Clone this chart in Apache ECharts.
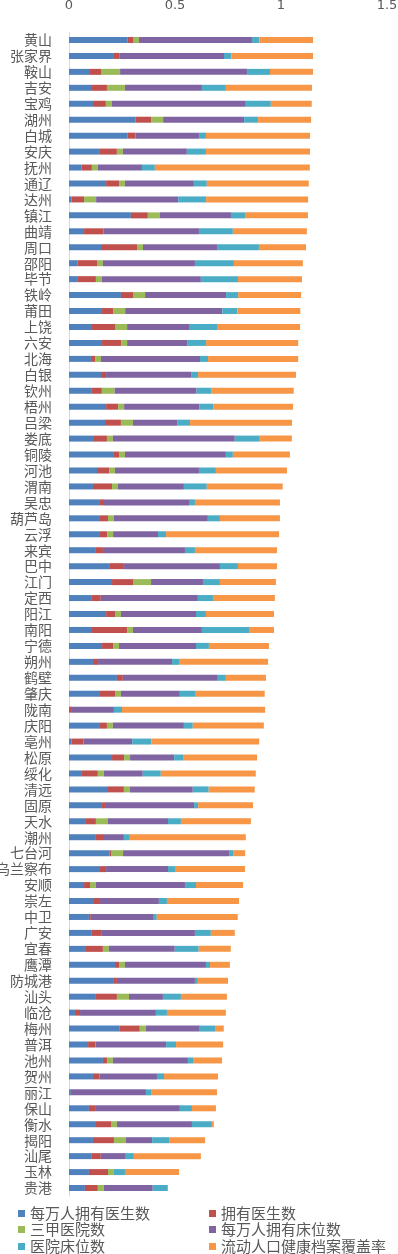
<!DOCTYPE html>
<html>
<head>
<meta charset="utf-8">
<script src="https://cdn.jsdelivr.net/npm/echarts/dist/echarts.min.js"></script>
<style>
html,body{margin:0;padding:0;background:#fff;}
#chart{width:398px;height:1254px;}
</style>
</head>
<body>
<div id="chart"></div>
<script>
const cities = ['黄山','张家界','鞍山','吉安','宝鸡','湖州','白城','安庆','抚州','通辽','达州','镇江','曲靖','周口','邵阳','毕节','铁岭','莆田','上饶','六安','北海','白银','钦州','梧州','吕梁','娄底','铜陵','河池','渭南','吴忠','葫芦岛','云浮','来宾','巴中','江门','定西','阳江','南阳','宁德','朔州','鹤壁','肇庆','陇南','庆阳','亳州','松原','绥化','清远','固原','天水','潮州','七台河','乌兰察布','安顺','崇左','中卫','广安','宜春','鹰潭','防城港','汕头','临沧','梅州','普洱','池州','贺州','丽江','保山','衡水','揭阳','汕尾','玉林','贵港'];

const doctorsPer10k = [0.275,0.212,0.099,0.104,0.113,0.313,0.275,0.146,0.058,0.175,0.011,0.292,0.071,0.151,0.039,0.042,0.245,0.156,0.104,0.156,0.104,0.151,0.108,0.175,0.170,0.118,0.208,0.132,0.113,0.146,0.142,0.142,0.127,0.193,0.203,0.108,0.175,0.104,0.156,0.113,0.226,0.142,0,0.146,0.011,0.203,0.061,0.184,0.156,0.080,0.127,0.190,0.142,0.071,0.118,0.094,0.108,0.080,0.217,0.212,0.127,0.028,0.237,0.090,0.160,0.113,0.009,0.094,0.123,0.113,0.108,0.094,0.075];

const doctors = [0.027,0.025,0.052,0.075,0.061,0.074,0.039,0.080,0.050,0.061,0.060,0.080,0.091,0.170,0.093,0.085,0.057,0.052,0.113,0.090,0.019,0.024,0.047,0.057,0.075,0.061,0.028,0.057,0.090,0.019,0.042,0.038,0.033,0.066,0.099,0.042,0.042,0.170,0.052,0.024,0.028,0.075,0.014,0.033,0.057,0.057,0.075,0.075,0.014,0.047,0.038,0.008,0.033,0.028,0.028,0.009,0.047,0.080,0.019,0.014,0.099,0.024,0.097,0.035,0.019,0.030,0.005,0.033,0.075,0.099,0.042,0.090,0.061];

const tier3Hospitals = [0.028,0,0.090,0.085,0.028,0.057,0,0.028,0.028,0.028,0.057,0.057,0,0.028,0.028,0.028,0.057,0.057,0.057,0.028,0.028,0,0.060,0.028,0.057,0.028,0.028,0.028,0.028,0,0.028,0.028,0,0,0.085,0,0.028,0.028,0.028,0,0,0.028,0,0.028,0,0.028,0.028,0.028,0,0.057,0,0.057,0,0.028,0,0,0,0.028,0.028,0,0.057,0,0.028,0,0.028,0,0,0,0.028,0.057,0,0.028,0.028];

const bedsPer10k = [0.533,0.494,0.599,0.363,0.632,0.382,0.299,0.302,0.208,0.325,0.387,0.335,0.451,0.349,0.434,0.467,0.382,0.458,0.292,0.283,0.467,0.401,0.387,0.354,0.208,0.575,0.476,0.396,0.311,0.401,0.443,0.212,0.387,0.453,0.245,0.458,0.354,0.325,0.363,0.349,0.448,0.278,0.198,0.335,0.230,0.208,0.184,0.297,0.420,0.283,0.094,0.500,0.292,0.420,0.278,0.297,0.439,0.311,0.382,0.368,0.160,0.358,0.255,0.333,0.354,0.272,0.349,0.396,0.354,0.123,0.118,0,0.231];

const hospitalBeds = [0.035,0.035,0.108,0.113,0.118,0.066,0.033,0.090,0.061,0.061,0.132,0.066,0.160,0.198,0.184,0.175,0.057,0.071,0.132,0.090,0.038,0.033,0.071,0.066,0.061,0.118,0.033,0.080,0.108,0.028,0.057,0.038,0.047,0.085,0.080,0.071,0.047,0.222,0.061,0.033,0.038,0.075,0.038,0.042,0.090,0.042,0.085,0.075,0.019,0.061,0.028,0.019,0.033,0.052,0.038,0.014,0.075,0.113,0.019,0.014,0.085,0.052,0.075,0.047,0.024,0.033,0.024,0.057,0.094,0.080,0.038,0.052,0.071];

const migrantRecords = [0.253,0.385,0.203,0.406,0.193,0.250,0.491,0.491,0.731,0.481,0.481,0.297,0.349,0.222,0.325,0.302,0.297,0.297,0.392,0.434,0.425,0.462,0.387,0.377,0.481,0.151,0.269,0.335,0.358,0.401,0.283,0.533,0.387,0.184,0.264,0.292,0.321,0.118,0.283,0.420,0.189,0.325,0.675,0.335,0.509,0.349,0.448,0.217,0.259,0.330,0.547,0.057,0.330,0.222,0.340,0.382,0.113,0.151,0.094,0.142,0.217,0.278,0.038,0.222,0.137,0.255,0.311,0.113,0.009,0.170,0.316,0.255,0];

const xTicks = [0, 0.5, 1, 1.5];

const seriesNames = ['每万人拥有医生数','拥有医生数','三甲医院数','每万人拥有床位数','医院床位数','流动人口健康档案覆盖率'];
const seriesData = [doctorsPer10k, doctors, tier3Hospitals, bedsPer10k, hospitalBeds, migrantRecords];
const colors = ['#4F81BD','#C0504D','#9BBB59','#8064A2','#4BACC6','#F79646'];

const chart = echarts.init(document.getElementById('chart'), null, {renderer:'canvas'});
const legendText = {fontSize:15, color:'#595959', fontFamily:'"Noto Sans CJK SC", sans-serif', lineHeight:17};
const legendLefts = [18, 209];
const legendTops = [1205, 1221, 1238];
const legends = seriesNames.map((n, i) => ({
  show:true, orient:'horizontal', left:legendLefts[i % 2], top:legendTops[Math.floor(i / 2)],
  padding:0, itemGap:0, itemWidth:7, itemHeight:7, icon:'rect',
  data:[n], textStyle:legendText
}));

chart.setOption({
  animation:false,
  color: colors,
  grid:{left:69, right:11, top:32, bottom:58, containLabel:false, outerBoundsMode:'none'},
  legend: legends,
  xAxis:{
    type:'value', position:'top', min:xTicks[0], max:xTicks[xTicks.length-1], interval:0.5,
    axisLine:{show:false}, axisTick:{show:false}, splitLine:{show:false},
    axisLabel:{margin:20, fontSize:13, color:'#595959', fontFamily:'"DejaVu Sans", sans-serif',
      formatter: v => String(v)}
  },
  yAxis:{
    type:'category', inverse:true, data:cities,
    axisLine:{show:true, lineStyle:{color:'#D9D9D9', width:1}},
    axisTick:{show:false},
    axisLabel:{margin:17, fontSize:14, color:'#595959', fontFamily:'"Noto Sans CJK SC", sans-serif', interval:0}
  },
  series: seriesNames.map((n,i)=>({
    name:n, type:'bar', stack:'total', barWidth:6, data:seriesData[i],
    itemStyle:{color:colors[i]}
  }))
});
</script>
</body>
</html>
